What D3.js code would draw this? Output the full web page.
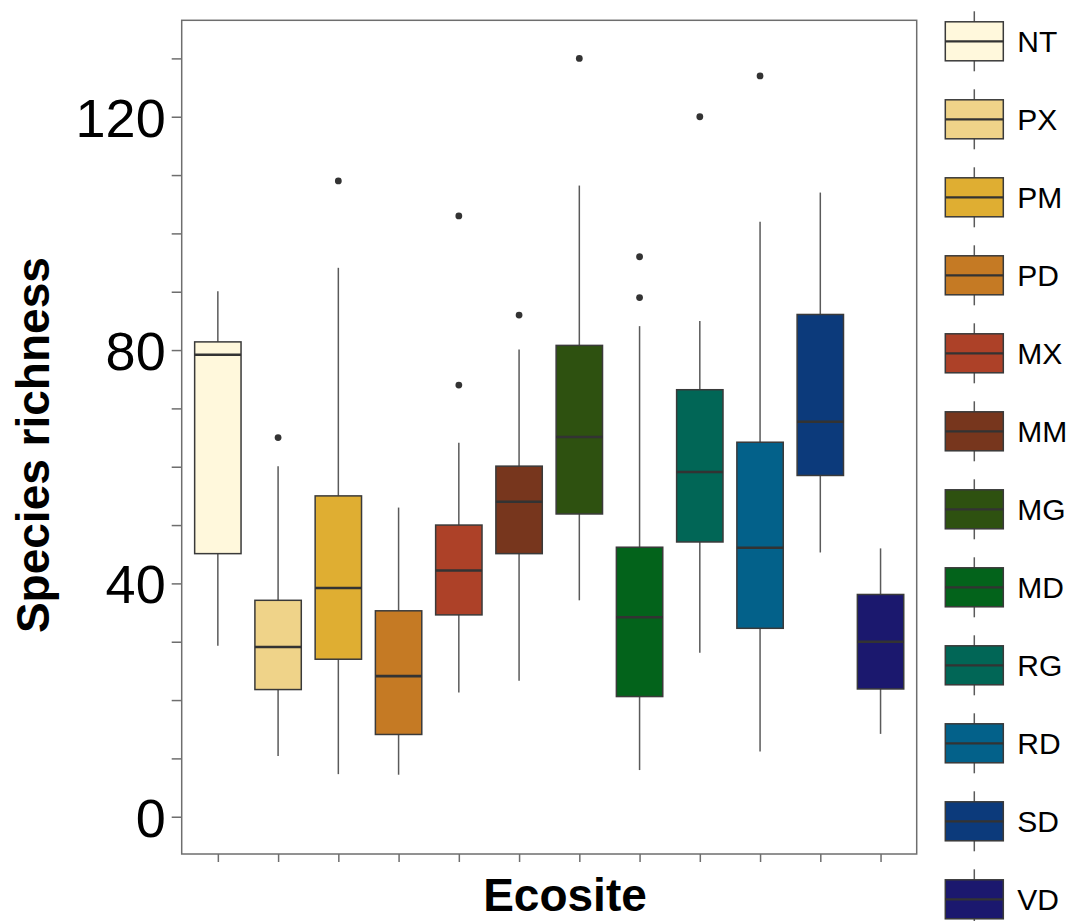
<!DOCTYPE html>
<html>
<head>
<meta charset="utf-8">
<script src="https://cdn.jsdelivr.net/npm/d3@7/dist/d3.min.js"></script>
<style>
  html, body { margin: 0; padding: 0; background: #fff; }
  svg { display: block; font-family: "Liberation Sans", Arial, sans-serif; }
</style>
</head>
<body>
<svg id="chart" width="1072" height="921"></svg>
<script>
// Species richness by ecosite: box-plot summaries
const categories   = ["NT", "PX", "PM", "PD", "MX", "MM", "MG", "MD", "RG", "RD", "SD", "VD"];
const lowerWhisker = [29.3, 10.4, 7.3, 7.2, 21.3, 23.3, 37.1, 8.0, 28.1, 11.2, 45.3, 14.2];
const q1           = [45.1, 21.8, 27.0, 14.1, 34.6, 45.1, 51.9, 20.6, 47.1, 32.3, 58.5, 21.9];
const medians      = [79.2, 29.1, 39.2, 24.1, 42.2, 54.0, 65.1, 34.2, 59.1, 46.1, 67.7, 30.0];
const q3           = [81.4, 37.1, 55.0, 35.3, 50.0, 60.1, 80.8, 46.2, 73.2, 64.2, 86.1, 38.1];
const upperWhisker = [90.1, 60.1, 94.1, 53.0, 64.1, 80.1, 108.2, 84.1, 85.0, 102.0, 107.0, 46.0];
const outliers     = [[], [65], [109], [], [103, 74], [86], [130], [96, 89], [120], [127], [], []];
const fills        = ["#FFF8DC", "#EFD389", "#DFAE32", "#C57A24", "#AD4128", "#77361D",
                      "#2E5110", "#03631B", "#016656", "#03618A", "#0C3A7B", "#1B186E"];
const yTickLabels  = [0, 40, 80, 120];
const yMinorTicks  = [10, 20, 30, 50, 60, 70, 90, 100, 110, 130];

const svg = d3.select("#chart");
const panel = { left: 181.7, top: 20.3, right: 916.7, bottom: 854 };

const x = d3.scalePoint().domain(categories).range([panel.left, panel.right]).padding(0.6);
const y = d3.scaleLinear().domain([-6.39, 136.53]).range([panel.bottom, panel.top]);
const boxW = x.step() * 0.77;

const color = d3.scaleOrdinal().domain(categories).range(fills);

const rows = categories.map((c, i) => ({
  cat: c, lo: lowerWhisker[i], q1: q1[i], med: medians[i], q3: q3[i], hi: upperWhisker[i], out: outliers[i]
}));

const lineCol = "#5a5a5a";
const edgeCol = "#3a3a3a";

// panel
svg.append("rect")
  .attr("x", panel.left).attr("y", panel.top)
  .attr("width", panel.right - panel.left).attr("height", panel.bottom - panel.top)
  .attr("fill", "#fff").attr("stroke", "#6e6e6e").attr("stroke-width", 1.5);

// y axis: labelled ticks every 40, unlabelled every 10
const yAxis = d3.axisLeft(y)
  .tickValues(yTickLabels.concat(yMinorTicks))
  .tickSize(10).tickPadding(6)
  .tickFormat(d => yTickLabels.includes(d) ? d : "");
const gy = svg.append("g").attr("transform", `translate(${panel.left},0)`).call(yAxis);
gy.select(".domain").remove();
gy.selectAll(".tick line").attr("stroke", "#6e6e6e").attr("stroke-width", 1.5);
gy.selectAll(".tick text").attr("font-size", 54).attr("fill", "#000").attr("dy", "0.36em");

// x axis: ticks only
const xAxis = d3.axisBottom(x).tickSize(8).tickFormat("");
const gx = svg.append("g").attr("transform", `translate(0,${panel.bottom})`).call(xAxis);
gx.select(".domain").remove();
gx.selectAll(".tick line").attr("stroke", "#6e6e6e").attr("stroke-width", 1.5);

// boxes
const g = svg.append("g").selectAll("g").data(rows).join("g");

g.append("line")
  .attr("x1", d => x(d.cat)).attr("x2", d => x(d.cat))
  .attr("y1", d => y(d.q3)).attr("y2", d => y(d.hi))
  .attr("stroke", lineCol).attr("stroke-width", 1.5);
g.append("line")
  .attr("x1", d => x(d.cat)).attr("x2", d => x(d.cat))
  .attr("y1", d => y(d.lo)).attr("y2", d => y(d.q1))
  .attr("stroke", lineCol).attr("stroke-width", 1.5);
g.append("rect")
  .attr("x", d => x(d.cat) - boxW / 2).attr("width", boxW)
  .attr("y", d => y(d.q3)).attr("height", d => y(d.q1) - y(d.q3))
  .attr("fill", d => color(d.cat)).attr("stroke", edgeCol).attr("stroke-width", 1.5);
g.append("line")
  .attr("x1", d => x(d.cat) - boxW / 2).attr("x2", d => x(d.cat) + boxW / 2)
  .attr("y1", d => y(d.med)).attr("y2", d => y(d.med))
  .attr("stroke", "#333").attr("stroke-width", 2.6);
g.selectAll("circle").data(d => d.out.map(v => ({ cat: d.cat, v }))).join("circle")
  .attr("cx", d => x(d.cat)).attr("cy", d => y(d.v)).attr("r", 3.4)
  .attr("fill", "#333");

// axis titles
svg.append("text")
  .attr("x", 565).attr("y", 911)
  .attr("text-anchor", "middle").attr("font-size", 46).attr("font-weight", "bold")
  .text("Ecosite");
svg.append("text")
  .attr("transform", `translate(49,${(panel.top + panel.bottom) / 2 + 8}) rotate(-90)`)
  .attr("text-anchor", "middle").attr("font-size", 46).attr("font-weight", "bold")
  .text("Species richness");

// legend
const legY = d3.scalePoint().domain(categories).range([41.3, 41.3 + 78 * 11]);
const keyX = 974.3, keyW = 58, keyH = 39, whisk = 30;
const lg = svg.append("g").selectAll("g").data(categories).join("g")
  .attr("transform", c => `translate(${keyX},${legY(c)})`);
lg.append("line").attr("y1", -whisk).attr("y2", whisk)
  .attr("stroke", lineCol).attr("stroke-width", 1.5);
lg.append("rect")
  .attr("x", -keyW / 2).attr("y", -keyH / 2).attr("width", keyW).attr("height", keyH)
  .attr("fill", c => color(c)).attr("stroke", edgeCol).attr("stroke-width", 1.5);
lg.append("line").attr("x1", -keyW / 2).attr("x2", keyW / 2)
  .attr("stroke", "#333").attr("stroke-width", 2.2);
lg.append("text")
  .attr("x", 43).attr("dy", "0.36em")
  .attr("font-size", 30).attr("fill", "#000")
  .text(c => c);
</script>
</body>
</html>
